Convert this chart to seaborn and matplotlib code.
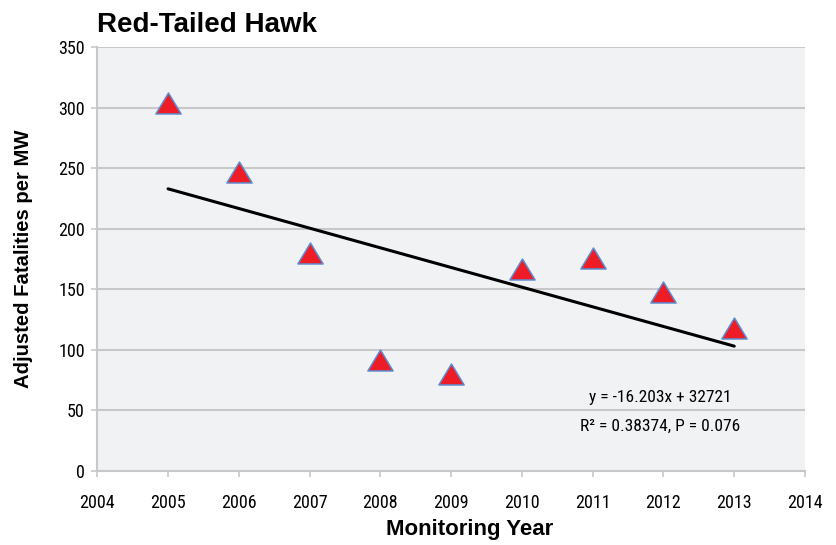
import numpy as np
import pandas as pd
import seaborn as sns
import matplotlib
matplotlib.use("Agg")
import matplotlib.pyplot as plt
from matplotlib.path import Path
from matplotlib.markers import MarkerStyle
from matplotlib import font_manager as fm

# ---- data ----
years = [2005, 2006, 2007, 2008, 2009, 2010, 2011, 2012, 2013]
fatalities = [304, 247, 180, 92, 80, 167, 176, 148, 118]
x_ticks = list(range(2004, 2015))
y_ticks = list(range(0, 351, 50))
title = "Red-Tailed Hawk"
x_label = "Monitoring Year"
y_label = "Adjusted Fatalities per MW"
eq_line1 = "y = -16.203x + 32721"
eq_line2 = "R² = 0.38374, P = 0.076"

df = pd.DataFrame({"year": years, "fatalities": fatalities})

sns.set_theme(style="white")
plt.rcParams["font.family"] = ["Liberation Sans", "DejaVu Sans"]
for k in ["text.color", "axes.labelcolor", "xtick.labelcolor", "ytick.labelcolor"]:
    plt.rcParams[k] = "black"


def find_narrow():
    prefs = []
    for f in fm.fontManager.ttflist:
        nm = f.name
        st = str(f.stretch)
        if f.style != "normal" or f.weight not in (400, "normal", "regular"):
            continue
        narrowish = ("Narrow" in nm or "Condensed" in nm or
                     st in ("condensed", "semi-condensed", "extra-condensed", "ultra-condensed"))
        if not narrowish:
            continue
        rank = 5
        if "Liberation Sans Narrow" in nm:
            rank = 0
        elif "Roboto" in nm:
            rank = 1
        elif "Noto Sans" in nm and "CJK" not in nm:
            rank = 2
        elif "Open Sans" in nm:
            rank = 3
        elif "DejaVu" in nm:
            rank = 6
        prefs.append((rank, f.fname))
    if prefs:
        prefs.sort()
        return fm.FontProperties(fname=prefs[0][1]), prefs[0][0]
    return None, None


narrow_fp, rank = find_narrow()
if narrow_fp is None or rank >= 6:
    narrow_fp = fm.FontProperties(family=["Liberation Sans", "DejaVu Sans"])
    tick_size = 11
else:
    tick_size = 13
bold_font = ["Liberation Sans", "DejaVu Sans"]

grid_c = "#c8c8c8"
fig = plt.figure(figsize=(8.37, 5.45), dpi=100)
ax = fig.add_axes([97.3 / 837, 74 / 545, (805 - 97.3) / 837, (471 - 47) / 545])
ax.set_facecolor("#f1f2f4")

tri = MarkerStyle(Path([(-1, -0.83), (1, -0.83), (0, 0.83), (-1, -0.83)],
                       [Path.MOVETO, Path.LINETO, Path.LINETO, Path.CLOSEPOLY]))

sns.scatterplot(data=df, x="year", y="fatalities", marker=tri, s=330,
                color="#ee1c25", edgecolor="#5b8bd0", linewidth=1.1,
                zorder=3, ax=ax, legend=False)
sns.regplot(data=df, x="year", y="fatalities", scatter=False, ci=None,
            truncate=True, color="black", line_kws=dict(lw=2.2, zorder=4), ax=ax)

ax.set_xlim(2004, 2014)
ax.set_ylim(0, 350)
ax.set_xticks(x_ticks)
ax.set_yticks(y_ticks)
tfp = narrow_fp.copy()
tfp.set_size(tick_size)
efp = narrow_fp.copy()
efp.set_size(tick_size - 0.5)
ax.set_xticklabels([str(t) for t in x_ticks], fontproperties=tfp, color="black")
ax.set_yticklabels([str(t) for t in y_ticks], fontproperties=tfp, color="black")

ax.yaxis.grid(True, color=grid_c, lw=1.5, zorder=0)
ax.xaxis.grid(False)
ax.set_axisbelow(True)
for s in ["top", "right"]:
    ax.spines[s].set_visible(False)
for s in ["left", "bottom"]:
    ax.spines[s].set_color(grid_c)
    ax.spines[s].set_linewidth(1.5)
ax.tick_params(axis="x", direction="out", length=4.5, width=1.2, color=grid_c,
               pad=12, bottom=True)
ax.tick_params(axis="y", direction="out", length=4, width=1.2, color=grid_c,
               pad=5, left=True)

ax.set_xlabel(x_label, fontsize=16, fontweight="bold", family=bold_font,
              va="center", color="black")
ax.xaxis.set_label_coords((470 - 97.3) / 707.7, -(530 - 471) / 424)
ax.set_ylabel(y_label, fontsize=14.6, fontweight="bold", family=bold_font,
              va="center", color="black")
ax.yaxis.set_label_coords((24 - 97.3) / 707.7, 0.5)

ax.text(2011.95, 60.3, eq_line1, ha="center", va="center", fontproperties=efp, color="black")
ax.text(2011.95, 37.2, eq_line2, ha="center", va="center", fontproperties=efp, color="black")

fig.text(97 / 837, 1 - 31.7 / 545, title, fontsize=20, fontweight="bold",
         family=bold_font, ha="left", va="baseline", color="black")

fig.savefig("out.png", dpi=100, facecolor="white")
